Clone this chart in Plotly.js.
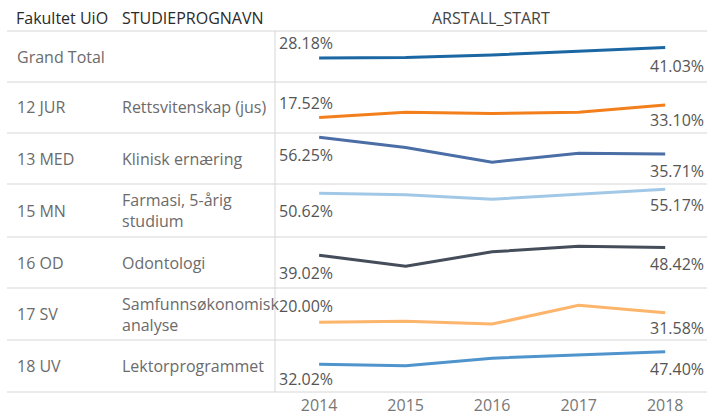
<!DOCTYPE html>
<html>
<head>
<meta charset="utf-8">
<script src="https://cdn.plot.ly/plotly-3.0.1.min.js"></script>
<style>html,body{margin:0;padding:0;background:#fff;}#chart{width:707px;height:417px;}</style>
</head>
<body>
<div id="chart"></div>
<script>
const years = [2014, 2015, 2016, 2017, 2018];
const faculties = ['Grand Total', '12 JUR', '13 MED', '15 MN', '16 OD', '17 SV', '18 UV'];
const programs = ['', 'Rettsvitenskap (jus)', 'Klinisk ernæring', 'Farmasi, 5-årig<br>studium', 'Odontologi', 'Samfunnsøkonomisk<br>analyse', 'Lektorprogrammet'];
const grandTotal = [28.18, 28.9, 32.0, 36.5, 41.03];
const jur = [17.52, 24.2, 22.5, 24.2, 33.10];
const med = [56.25, 43.5, 25.5, 36.5, 35.71];
const mn = [50.62, 48.8, 43.5, 49.0, 55.17];
const od = [39.02, 25.5, 43.2, 50.0, 48.42];
const sv = [20.00, 21.3, 17.8, 40.5, 31.58];
const uv = [32.02, 30.3, 39.5, 43.8, 47.40];

const series = [grandTotal, jur, med, mn, od, sv, uv];
const colors = ['#1b67a3', '#f27f1b', '#4a6ea5', '#a2c8e8', '#454d5a', '#fdb46b', '#4f94cd'];
const rowEdges = [31, 82, 133, 184, 237, 288, 340, 392];
// label offsets (pixels, positive = below point) for first / last values
const firstOff = [-15, -15, 18, 18, 18, -16, 15];
const lastOff = [18, 15, 17, 16, 16, 15, 17];

const W = 707, H = 417;
const px = x => x / W;
const py = y => 1 - y / H;
const FONT = 'Open Sans, Noto Sans, sans-serif';

const traces = [];
const layout = {
  width: W, height: H,
  margin: {l: 0, r: 0, t: 0, b: 0},
  paper_bgcolor: '#fff', plot_bgcolor: 'rgba(0,0,0,0)',
  showlegend: false,
  font: {family: FONT, size: 16, color: '#666'},
  xaxis: {
    domain: [px(275), px(705)],
    range: [2013.49, 2018.46],
    tickvals: years, ticktext: years.map(String),
    showgrid: false, zeroline: false, showline: false, ticks: '',
    tickfont: {family: FONT, size: 16, color: '#777'},
    anchor: 'y7', ticklabelstandoff: 2, fixedrange: true
  },
  annotations: [], shapes: []
};

series.forEach((vals, i) => {
  const yName = 'y' + (i + 1);
  const axKey = 'yaxis' + (i + 1);
  layout[axKey] = {
    domain: [py(rowEdges[i + 1]), py(rowEdges[i])],
    range: [-1.5, 61.5], visible: false, fixedrange: true
  };
  traces.push({
    x: years, y: vals, type: 'scatter', mode: 'lines',
    xaxis: 'x', yaxis: yName,
    line: {color: colors[i], width: 3}, hoverinfo: 'skip'
  });
  layout.annotations.push({
    xref: 'paper', yref: yName, x: px(277), y: vals[0], xanchor: 'left', yanchor: 'middle',
    yshift: -firstOff[i], text: vals[0].toFixed(2) + '%', showarrow: false,
    font: {family: FONT, size: 16, color: '#555'}
  });
  layout.annotations.push({
    xref: 'paper', yref: yName, x: px(706), y: vals[vals.length - 1], xanchor: 'right', yanchor: 'middle',
    yshift: -lastOff[i], text: vals[vals.length - 1].toFixed(2) + '%', showarrow: false,
    font: {family: FONT, size: 16, color: '#555'}
  });
  const mid = (rowEdges[i] + rowEdges[i + 1]) / 2;
  layout.annotations.push({
    xref: 'paper', yref: 'paper', x: px(15), y: py(mid), xanchor: 'left', yanchor: 'middle',
    text: faculties[i], showarrow: false, font: {family: FONT, size: 16, color: '#6b6b6b'}
  });
  if (programs[i]) {
    layout.annotations.push({
      xref: 'paper', yref: 'paper', x: px(120), y: py(mid), xanchor: 'left', yanchor: 'middle', align: 'left',
      text: programs[i], showarrow: false, font: {family: FONT, size: 16, color: '#6b6b6b'}
    });
  }
});

// headers
layout.annotations.push({xref: 'paper', yref: 'paper', x: px(14), y: py(18), xanchor: 'left', yanchor: 'middle',
  text: 'Fakultet UiO', showarrow: false, font: {family: FONT, size: 16, color: '#2a2a2a'}});
layout.annotations.push({xref: 'paper', yref: 'paper', x: px(120), y: py(18), xanchor: 'left', yanchor: 'middle',
  text: 'STUDIEPROGNAVN', showarrow: false, font: {family: FONT, size: 16, color: '#2a2a2a'}});
layout.annotations.push({xref: 'paper', yref: 'paper', x: px(491), y: py(18), xanchor: 'center', yanchor: 'middle',
  text: 'ARSTALL_START', showarrow: false, font: {family: FONT, size: 16, color: '#444'}});

// grid lines
rowEdges.forEach(y => {
  layout.shapes.push({type: 'line', xref: 'paper', yref: 'paper', x0: px(7), x1: px(707), y0: py(y), y1: py(y),
    line: {color: '#d6d6d6', width: 1}});
});
layout.shapes.push({type: 'line', xref: 'paper', yref: 'paper', x0: px(275), x1: px(275), y0: py(31), y1: py(392),
  line: {color: '#d6d6d6', width: 1}});

Plotly.newPlot('chart', traces, layout, {staticPlot: true, displayModeBar: false});
</script>
</body>
</html>
